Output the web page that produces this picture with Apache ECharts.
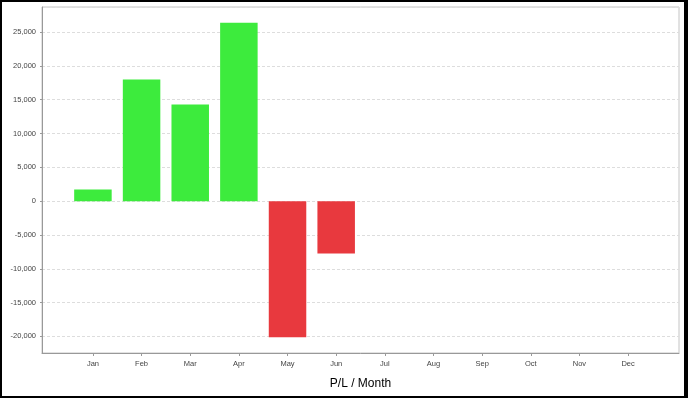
<!DOCTYPE html>
<html>
<head>
<meta charset="utf-8">
<script src="https://cdn.jsdelivr.net/npm/echarts@6/dist/echarts.min.js"></script>
<style>
  html, body { margin: 0; padding: 0; background: #fff; }
  #wrap { position: relative; width: 688px; height: 398px; }
  #main { position: absolute; left: 0; top: 0; width: 688px; height: 398px; }
  #frame { position: absolute; left: 0; top: 0; width: 688px; height: 398px; box-sizing: border-box;
           border: 2px solid #000; border-right-width: 4px; pointer-events: none; }
</style>
</head>
<body>
<div id="wrap">
  <div id="main"></div>
  <div id="frame"></div>
</div>
<script>
var months = ['Jan', 'Feb', 'Mar', 'Apr', 'May', 'Jun', 'Jul', 'Aug', 'Sep', 'Oct', 'Nov', 'Dec'];
var profit = [1730, 18000, 14300, 26390, -20120, -7740, null, null, null, null, null, null];
var yMin = -22450;
var yMax = 28700;

var myChart = echarts.init(document.getElementById('main'));

var labelFont = { fontFamily: 'Liberation Sans', fontSize: 7.5, color: '#444' };

var option = {
    animation: false,
    grid: [
        { left: 42, top: 7, right: 9, bottom: 45, show: true, borderColor: '#c4c4c4', borderWidth: 1 },
        { left: 68.6, top: 7, right: 35.6, bottom: 45 }
    ],
    xAxis: [
        {
            gridIndex: 0, type: 'value', min: 0, max: 1,
            axisLine: { show: true, onZero: false, lineStyle: { color: '#999' } },
            axisTick: { show: false }, axisLabel: { show: false }, splitLine: { show: false },
            name: 'P/L / Month', nameLocation: 'middle', nameGap: 25,
            nameTextStyle: { fontFamily: 'Liberation Sans', fontSize: 12, color: '#000' }
        },
        {
            gridIndex: 1, type: 'category', data: months,
            axisLine: { show: false, onZero: false },
            axisTick: { show: true, alignWithLabel: true, length: 3, lineStyle: { color: '#999' } },
            axisLabel: Object.assign({ margin: 7 }, labelFont),
            splitLine: { show: false }
        }
    ],
    yAxis: [
        {
            gridIndex: 0, type: 'value', min: yMin, max: yMax,
            splitNumber: 10, minInterval: 5000, maxInterval: 5000,
            axisLine: { show: true, lineStyle: { color: '#999' } },
            axisTick: { show: true, length: 2, lineStyle: { color: '#999' } },
            axisLabel: Object.assign({
                margin: 6, showMinLabel: false, showMaxLabel: false,
                formatter: function (v) { return v.toLocaleString('en-US'); }
            }, labelFont),
            splitLine: { show: true, lineStyle: { color: '#ddd', type: [3, 2] } }
        },
        { gridIndex: 1, type: 'value', min: yMin, max: yMax, show: false, splitLine: { show: false } }
    ],
    series: [{
        type: 'bar',
        xAxisIndex: 1,
        yAxisIndex: 1,
        data: profit,
        barWidth: 37.5,
        itemStyle: {
            color: function (p) { return p.value >= 0 ? '#3deb3d' : '#e8393e'; }
        }
    }]
};

myChart.setOption(option);
</script>
</body>
</html>
